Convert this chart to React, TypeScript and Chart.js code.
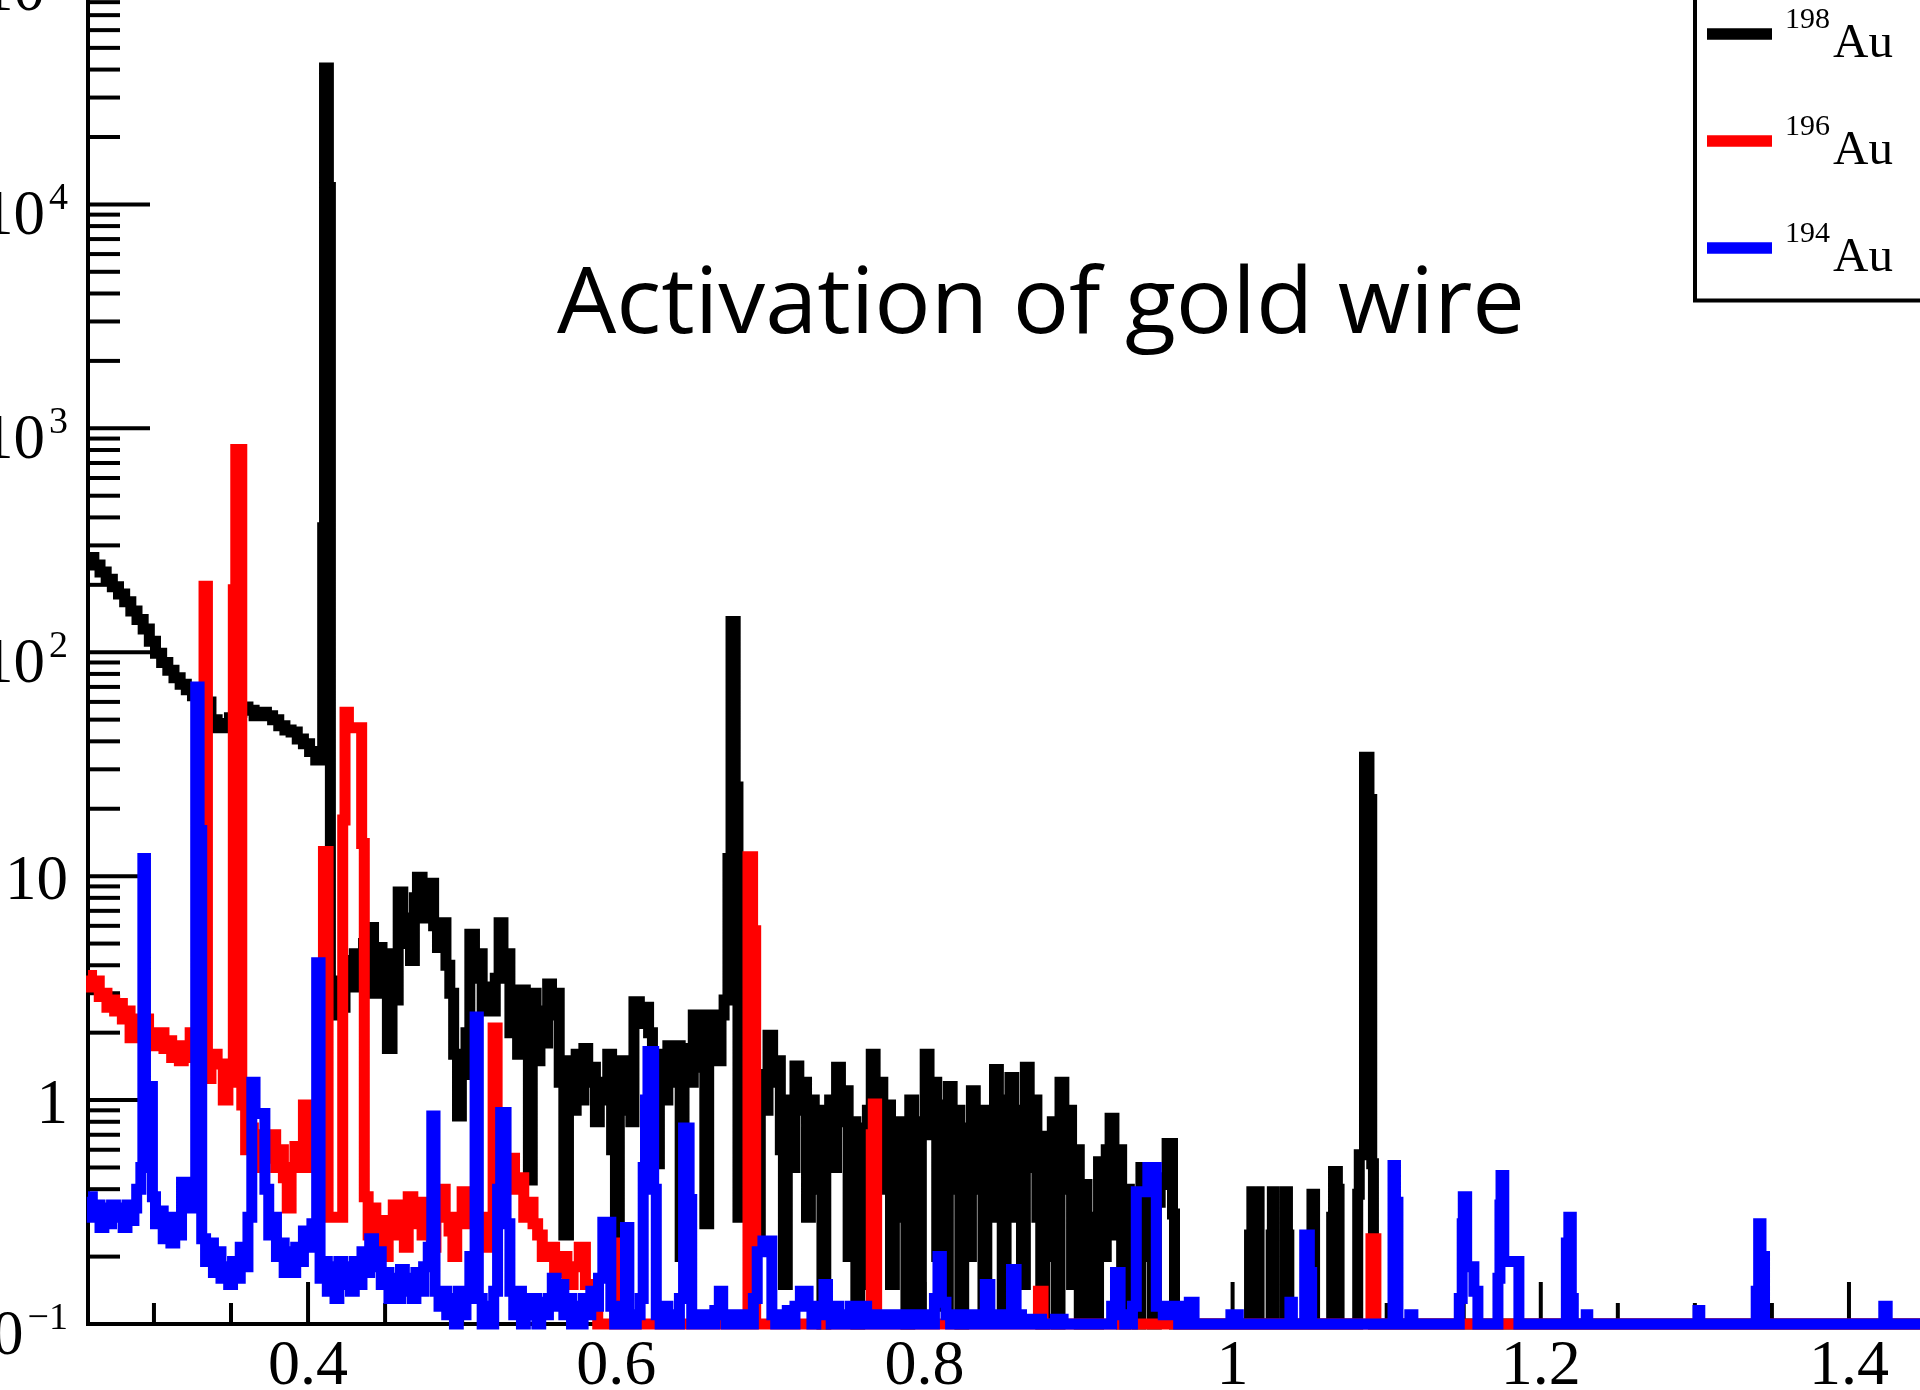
import React, { useEffect, useRef } from 'react';
import { Chart, registerables } from 'chart.js';

Chart.register(...registerables);

// Gamma energy (MeV) on x, counts on a logarithmic y axis.
const energyMin = 0.2572;
const energyMax = 1.4461;
const countsMin = 0.1;
const countsMax = 81800;

const xMajorTicks = [0.4, 0.6, 0.8, 1.0, 1.2, 1.4];
const xMajorLabels = ['0.4', '0.6', '0.8', '1', '1.2', '1.4'];
const xMinorTicks = [0.3, 0.35, 0.45, 0.5, 0.55, 0.65, 0.7, 0.75, 0.85, 0.9, 0.95, 1.05, 1.1, 1.15, 1.25, 1.3, 1.35];

const yDecades = [0.1, 1, 10, 100, 1000, 10000, 100000];
const yDecadeBase = ['10', '1', '10', '10', '10', '10', '10'];
const yDecadeExp = ['\u22121', '', '', '2', '3', '4', '5'];
const yMinorFactors = [2, 3, 4, 5, 6, 7, 8, 9];

const titleText = 'Activation of gold wire';
const isotopeMass = ['198', '196', '194'];
const isotopeColors = ['#000000', '#ff0000', '#0000ff'];

// [left bin edge (MeV), content]; each content holds until the next edge.
const au198Bins: [number, number][] = [
  [0.2572, 265], [0.2610, 245], [0.2650, 228], [0.2690, 212], [0.2730, 196], [0.2770, 182],
  [0.2810, 168], [0.2850, 153], [0.2890, 140], [0.2930, 127], [0.2970, 112], [0.3010, 99],
  [0.3050, 90], [0.3090, 83], [0.3130, 77], [0.3170, 72], [0.3210, 68], [0.3250, 64],
  [0.3290, 62], [0.3330, 60], [0.3370, 50], [0.3410, 46], [0.3450, 48], [0.3490, 51],
  [0.3530, 54], [0.3570, 57], [0.3610, 55], [0.3650, 52], [0.3690, 54], [0.3730, 52],
  [0.3770, 50], [0.3810, 47], [0.3850, 45], [0.3890, 44], [0.3930, 41], [0.3970, 39],
  [0.4010, 36], [0.4050, 33], [0.4095, 360], [0.4107, 40600], [0.4132, 11900], [0.4145, 2.4],
  [0.4175, 3.4], [0.4210, 2.6], [0.4240, 4.2], [0.4270, 3.2], [0.4300, 4.5], [0.4330, 3.6],
  [0.4360, 5.0], [0.4400, 5.9], [0.4425, 3.0], [0.4450, 4.8], [0.4480, 3.3], [0.4500, 4.5],
  [0.4515, 1.7], [0.4545, 3.8], [0.4570, 2.8], [0.4585, 8.5], [0.4615, 5.0], [0.4640, 6.5],
  [0.4665, 4.2], [0.4690, 8.0], [0.4710, 9.9], [0.4740, 6.5], [0.4765, 8.5], [0.4790, 9.3],
  [0.4815, 6.0], [0.4840, 4.8], [0.4870, 6.2], [0.4895, 4.0], [0.4920, 3.0], [0.4945, 1.6],
  [0.4970, 0.85], [0.4995, 1.3], [0.5025, 2.0], [0.5050, 5.5], [0.5080, 3.5], [0.5105, 4.5],
  [0.5130, 2.5], [0.5160, 3.2], [0.5190, 2.5], [0.5215, 3.5], [0.5240, 6.2], [0.5265, 3.5],
  [0.5290, 4.5], [0.5310, 2.0], [0.5335, 3.1], [0.5360, 1.6], [0.5385, 3.1], [0.5410, 2.2],
  [0.5430, 0.44], [0.5455, 3.0], [0.5480, 1.5], [0.5505, 2.5], [0.5530, 1.8], [0.5555, 3.3],
  [0.5580, 2.4], [0.5605, 3.0], [0.5630, 1.2], [0.5660, 0.25], [0.5690, 1.5], [0.5715, 0.9],
  [0.5740, 1.6], [0.5765, 1.0], [0.5790, 1.7], [0.5815, 1.2], [0.5840, 1.4], [0.5865, 0.8],
  [0.5890, 1.2], [0.5920, 1.0], [0.5945, 1.6], [0.5970, 0.6], [0.5995, 0.2], [0.6020, 1.5],
  [0.6045, 0.9], [0.6070, 1.1], [0.6095, 0.8], [0.6115, 2.75], [0.6150, 2.2], [0.6180, 2.6],
  [0.6210, 2.0], [0.6235, 1.2], [0.6255, 0.52], [0.6280, 1.6], [0.6310, 1.0], [0.6335, 1.75],
  [0.6360, 1.2], [0.6390, 1.75], [0.6415, 0.2], [0.6440, 1.7], [0.6470, 1.2], [0.6500, 2.4],
  [0.6530, 1.4], [0.6555, 2.4], [0.6575, 0.28], [0.6600, 1.8], [0.6625, 2.4], [0.6650, 1.5],
  [0.6680, 2.4], [0.6700, 2.8], [0.6725, 12], [0.6745, 137], [0.6772, 25], [0.6790, 0.3],
  [0.6830, 1.0], [0.6860, 0.5], [0.6885, 0.75], [0.6910, 0.25], [0.6935, 1.3], [0.6960, 0.9],
  [0.6985, 1.95], [0.7015, 1.2], [0.7040, 1.5], [0.7065, 0.6], [0.7085, 0.15], [0.7110, 1.0],
  [0.7135, 0.5], [0.7160, 1.42], [0.7185, 0.9], [0.7210, 1.2], [0.7235, 0.3], [0.7260, 1.0],
  [0.7285, 0.4], [0.7310, 0.9], [0.7335, 0.1], [0.7360, 0.6], [0.7385, 1.0], [0.7410, 0.5],
  [0.7430, 1.4], [0.7455, 0.8], [0.7480, 1.1], [0.7505, 0.2], [0.7530, 0.8], [0.7555, 0.1],
  [0.7580, 0.75], [0.7605, 0.15], [0.7630, 0.9], [0.7655, 1.6], [0.7680, 0.6], [0.7705, 1.2],
  [0.7730, 0.4], [0.7755, 0.95], [0.7780, 0.15], [0.7805, 0.8], [0.7830, 0.3], [0.7855, 0.8],
  [0.7880, 0.1], [0.7905, 1.0], [0.7930, 0.3], [0.7955, 0.12], [0.7980, 0.8], [0.8005, 1.6],
  [0.8030, 0.7], [0.8055, 1.2], [0.8080, 0.2], [0.8105, 0.95], [0.8130, 0.12], [0.8155, 1.15],
  [0.8180, 0.4], [0.8205, 0.9], [0.8230, 0.1], [0.8255, 0.75], [0.8280, 0.2], [0.8305, 1.1],
  [0.8330, 0.4], [0.8355, 0.9], [0.8380, 0.12], [0.8405, 0.9], [0.8430, 0.3], [0.8455, 1.37],
  [0.8480, 0.6], [0.8505, 0.12], [0.8530, 1.0], [0.8555, 1.26], [0.8580, 0.3], [0.8605, 0.9],
  [0.8630, 0.15], [0.8655, 1.4], [0.8680, 0.5], [0.8705, 1.0], [0.8730, 0.3], [0.8755, 0.1],
  [0.8780, 0.69], [0.8805, 0.2], [0.8830, 0.8], [0.8855, 0.1], [0.8880, 1.2], [0.8905, 0.4],
  [0.8930, 0.9], [0.8955, 0.15], [0.8980, 0.6], [0.9005, 0.1], [0.9030, 0.42], [0.9055, 0.1],
  [0.9080, 0.3], [0.9105, 0.1], [0.9130, 0.53], [0.9155, 0.2], [0.9180, 0.6], [0.9205, 0.83],
  [0.9230, 0.25], [0.9255, 0.6], [0.9280, 0.1], [0.9305, 0.4], [0.9330, 0.12], [0.9355, 0.3],
  [0.9380, 0.1], [0.9405, 0.5], [0.9430, 0.2], [0.9455, 0.45], [0.9480, 0.1], [0.9505, 0.35],
  [0.9530, 0.45], [0.9560, 0.42], [0.9575, 0.64], [0.9610, 0.31], [0.9623, 0.1], [1.0110, 0.25],
  [1.0125, 0.39], [1.0172, 0.1], [1.0250, 0.25], [1.0258, 0.39], [1.0268, 0.1], [1.0340, 0.39],
  [1.0356, 0.25], [1.0365, 0.1], [1.0515, 0.38], [1.0532, 0.1], [1.0643, 0.3], [1.0655, 0.48],
  [1.0680, 0.4], [1.0691, 0.1], [1.0812, 0.38], [1.0822, 0.57], [1.0856, 34], [1.0885, 22],
  [1.0903, 0.52], [1.0914, 0.1],
];

const au196Bins: [number, number][] = [
  [0.2572, 3.6], [0.2595, 3.2], [0.2620, 3.4], [0.2645, 2.9], [0.2670, 3.0], [0.2695, 2.6],
  [0.2720, 2.8], [0.2745, 2.5], [0.2770, 2.7], [0.2795, 2.3], [0.2820, 2.5], [0.2845, 1.9],
  [0.2866, 2.1], [0.2890, 2.3], [0.2915, 2.0], [0.2940, 2.3], [0.2965, 1.8], [0.2990, 2.0],
  [0.3015, 1.75], [0.3040, 2.0], [0.3065, 1.7], [0.3090, 1.84], [0.3115, 1.55], [0.3140, 1.75],
  [0.3165, 1.5], [0.3190, 1.7], [0.3213, 1.55], [0.3235, 2.0], [0.3270, 1.7], [0.3325, 197],
  [0.3347, 1.25], [0.3370, 1.6], [0.3410, 1.45], [0.3450, 1.0], [0.3480, 1.2], [0.3515, 190],
  [0.3531, 805], [0.3570, 0.95], [0.3595, 0.6], [0.3620, 0.75], [0.3645, 0.5], [0.3670, 0.62],
  [0.3700, 0.7], [0.3730, 0.55], [0.3760, 0.7], [0.3790, 0.5], [0.3815, 0.6], [0.3840, 0.45],
  [0.3865, 0.33], [0.3890, 0.5], [0.3915, 0.62], [0.3945, 0.5], [0.3970, 0.95], [0.4000, 0.7],
  [0.4024, 0.5], [0.4100, 12.9], [0.4130, 0.3], [0.4225, 17.8], [0.4240, 54], [0.4262, 46],
  [0.4348, 14], [0.4365, 0.37], [0.4390, 0.25], [0.4415, 0.33], [0.4440, 0.22], [0.4467, 0.29],
  [0.4495, 0.2], [0.4520, 0.26], [0.4553, 0.34], [0.4580, 0.25], [0.4605, 0.3], [0.4625, 0.22],
  [0.4650, 0.37], [0.4680, 0.28], [0.4710, 0.35], [0.4740, 0.25], [0.4770, 0.3], [0.4800, 0.22],
  [0.4830, 0.3], [0.4860, 0.4], [0.4890, 0.3], [0.4915, 0.26], [0.4940, 0.2], [0.4965, 0.3],
  [0.5000, 0.39], [0.5030, 0.28], [0.5060, 0.33], [0.5090, 0.25], [0.5120, 0.3], [0.5150, 0.22],
  [0.5175, 0.3], [0.5201, 2.1], [0.5227, 0.4], [0.5255, 0.6], [0.5280, 0.45], [0.5310, 0.55],
  [0.5340, 0.4], [0.5370, 0.45], [0.5400, 0.3], [0.5430, 0.35], [0.5460, 0.28], [0.5490, 0.25],
  [0.5520, 0.2], [0.5560, 0.22], [0.5600, 0.17], [0.5640, 0.2], [0.5680, 0.15], [0.5720, 0.18],
  [0.5760, 0.22], [0.5800, 0.15], [0.5840, 0.12], [0.5880, 0.1], [0.5990, 0.23], [0.6010, 0.1],
  [0.6855, 12.2], [0.6885, 5.7], [0.6905, 0.1], [0.7655, 0.7], [0.7668, 0.96], [0.7690, 0.1],
  [0.8740, 0.14], [0.8770, 0.1], [1.0898, 0.24], [1.0930, 0.1],
];

const au194Bins: [number, number][] = [
  [0.2572, 0.37], [0.2600, 0.30], [0.2625, 0.34], [0.2650, 0.27], [0.2675, 0.33], [0.2700, 0.28],
  [0.2725, 0.34], [0.2750, 0.30], [0.2775, 0.33], [0.2800, 0.27], [0.2825, 0.34], [0.2850, 0.29],
  [0.2870, 0.33], [0.2888, 0.40], [0.2915, 0.50], [0.2928, 12], [0.2945, 1.15], [0.2990, 0.37],
  [0.3010, 0.28], [0.3035, 0.32], [0.3060, 0.24], [0.3085, 0.30], [0.3110, 0.23], [0.3135, 0.28],
  [0.3160, 0.25], [0.3179, 0.43], [0.3210, 0.33], [0.3240, 0.42], [0.3271, 70], [0.3293, 16],
  [0.3310, 0.24], [0.3335, 0.19], [0.3360, 0.23], [0.3386, 0.17], [0.3410, 0.21], [0.3435, 0.16],
  [0.3460, 0.18], [0.3485, 0.15], [0.3510, 0.19], [0.3535, 0.16], [0.3560, 0.22], [0.3585, 0.18],
  [0.3610, 0.30], [0.3635, 1.2], [0.3656, 0.87], [0.3720, 0.40], [0.3745, 0.25], [0.3770, 0.30],
  [0.3795, 0.20], [0.3820, 0.23], [0.3845, 0.17], [0.3870, 0.21], [0.3895, 0.17], [0.3920, 0.22],
  [0.3945, 0.19], [0.3970, 0.26], [0.4000, 0.22], [0.4025, 0.28], [0.4056, 4.1], [0.4078, 0.16],
  [0.4100, 0.19], [0.4125, 0.14], [0.4150, 0.18], [0.4175, 0.13], [0.4200, 0.19], [0.4225, 0.15],
  [0.4250, 0.18], [0.4275, 0.14], [0.4300, 0.19], [0.4325, 0.15], [0.4350, 0.21], [0.4375, 0.17],
  [0.4400, 0.24], [0.4425, 0.18], [0.4450, 0.21], [0.4475, 0.15], [0.4500, 0.17], [0.4525, 0.13],
  [0.4550, 0.16], [0.4575, 0.13], [0.4600, 0.175], [0.4625, 0.14], [0.4650, 0.16], [0.4675, 0.13],
  [0.4700, 0.17], [0.4725, 0.14], [0.4750, 0.18], [0.4780, 0.22], [0.4803, 0.85], [0.4824, 0.14],
  [0.4850, 0.12], [0.4875, 0.14], [0.4900, 0.11], [0.4925, 0.13], [0.4950, 0.10], [0.4975, 0.14],
  [0.5000, 0.11], [0.5025, 0.13], [0.5050, 0.20], [0.5084, 2.35], [0.5105, 0.13], [0.5130, 0.10],
  [0.5155, 0.12], [0.5180, 0.10], [0.5205, 0.14], [0.5230, 0.40], [0.5250, 0.88], [0.5285, 0.28],
  [0.5310, 0.14], [0.5335, 0.11], [0.5360, 0.14], [0.5385, 0.10], [0.5410, 0.13], [0.5435, 0.11],
  [0.5460, 0.13], [0.5485, 0.10], [0.5510, 0.125], [0.5535, 0.11], [0.5560, 0.13], [0.5585, 0.16],
  [0.5610, 0.12], [0.5635, 0.15], [0.5660, 0.11], [0.5685, 0.13], [0.5710, 0.10], [0.5735, 0.12],
  [0.5760, 0.10], [0.5785, 0.13], [0.5810, 0.11], [0.5835, 0.14], [0.5860, 0.12], [0.5885, 0.16],
  [0.5913, 0.285], [0.5965, 0.12], [0.5990, 0.10], [0.6010, 0.12], [0.6035, 0.10], [0.6060, 0.27],
  [0.6082, 0.11], [0.6105, 0.10], [0.6130, 0.11], [0.6155, 0.13], [0.6175, 0.50], [0.6190, 1.0],
  [0.6206, 1.65], [0.6243, 0.40], [0.6260, 0.11], [0.6285, 0.10], [0.6310, 0.12], [0.6335, 0.10],
  [0.6360, 0.11], [0.6385, 0.10], [0.6410, 0.13], [0.6437, 0.75], [0.6473, 0.36], [0.6490, 0.10],
  [0.6515, 0.10], [0.6540, 0.11], [0.6565, 0.10], [0.6590, 0.11], [0.6615, 0.10], [0.6640, 0.115],
  [0.6669, 0.14], [0.6691, 0.11], [0.6715, 0.10], [0.6740, 0.11], [0.6765, 0.10], [0.6790, 0.11],
  [0.6815, 0.10], [0.6840, 0.11], [0.6865, 0.10], [0.6890, 0.13], [0.6915, 0.21], [0.6952, 0.235],
  [0.7010, 0.11], [0.7035, 0.10], [0.7060, 0.11], [0.7085, 0.10], [0.7110, 0.115], [0.7135, 0.10],
  [0.7160, 0.12], [0.7195, 0.14], [0.7245, 0.12], [0.7270, 0.10], [0.7295, 0.12], [0.7320, 0.11],
  [0.7348, 0.15], [0.7371, 0.11], [0.7395, 0.10], [0.7420, 0.12], [0.7445, 0.10], [0.7470, 0.11],
  [0.7495, 0.10], [0.7520, 0.12], [0.7545, 0.10], [0.7570, 0.11], [0.7600, 0.12], [0.7625, 0.10],
  [0.7650, 0.11], [0.7700, 0.10], [0.7730, 0.11], [0.7760, 0.10], [0.7800, 0.11], [0.7840, 0.10],
  [0.7900, 0.11], [0.7950, 0.10], [0.8000, 0.11], [0.8040, 0.10], [0.8065, 0.13], [0.8088, 0.20],
  [0.8110, 0.125], [0.8140, 0.11], [0.8170, 0.10], [0.8210, 0.11], [0.8250, 0.10], [0.8300, 0.11],
  [0.8350, 0.10], [0.8395, 0.15], [0.8425, 0.11], [0.8460, 0.10], [0.8500, 0.11], [0.8540, 0.10],
  [0.8565, 0.175], [0.8595, 0.11], [0.8630, 0.10], [0.8700, 0.105], [0.8760, 0.10], [0.8850, 0.105],
  [0.8900, 0.10], [0.9215, 0.12], [0.9240, 0.17], [0.9270, 0.11], [0.9300, 0.10], [0.9350, 0.12],
  [0.9375, 0.39], [0.9450, 0.50], [0.9505, 0.12], [0.9550, 0.11], [0.9600, 0.12], [0.9650, 0.10],
  [0.9719, 0.125], [0.9750, 0.10], [0.9989, 0.11], [1.0037, 0.10], [1.0372, 0.125], [1.0388, 0.10],
  [1.0468, 0.25], [1.0498, 0.17], [1.0513, 0.10], [1.1041, 0.51], [1.1057, 0.35], [1.1073, 0.10],
  [1.1150, 0.11], [1.1170, 0.10], [1.1471, 0.13], [1.1490, 0.28], [1.1497, 0.37], [1.1519, 0.18],
  [1.1566, 0.14], [1.1592, 0.10], [1.1722, 0.16], [1.1735, 0.34], [1.1742, 0.46], [1.1760, 0.19],
  [1.1858, 0.10], [1.2166, 0.23], [1.2182, 0.30], [1.2198, 0.13], [1.2211, 0.10], [1.2295, 0.11],
  [1.2305, 0.10], [1.3020, 0.115], [1.3032, 0.10], [1.3398, 0.14], [1.3414, 0.28], [1.3429, 0.20],
  [1.3452, 0.10], [1.4226, 0.12], [1.4248, 0.10],
];

function histogramPoints(bins: [number, number][]) {
  const pts = bins.map(([e, c]) => ({ x: e, y: c }));
  pts.push({ x: energyMax, y: bins[bins.length - 1][1] });
  return pts;
}

const serif = '"Liberation Serif", "Times New Roman", serif';

function seg(ctx: CanvasRenderingContext2D, x1: number, y1: number, x2: number, y2: number) {
  ctx.beginPath();
  ctx.moveTo(x1, y1);
  ctx.lineTo(x2, y2);
  ctx.stroke();
}

// Axes, ticks and tick labels in the ROOT style (ticks pointing into the frame),
// then the legend box and the caption on top of the spectra.
const frameAndLegend = {
  id: 'frameAndLegend',
  beforeDatasetsDraw(chart: any) {
    const { ctx, chartArea: a, scales } = chart;
    const xs = scales.x;
    const ys = scales.y;
    const W = chart.width;
    ctx.save();
    ctx.strokeStyle = '#000';
    ctx.lineCap = 'butt';
    ctx.lineWidth = 4;
    ctx.beginPath();
    ctx.moveTo(a.left, a.top - 10);
    ctx.lineTo(a.left, a.bottom);
    ctx.lineTo(W + 10, a.bottom);
    ctx.stroke();

    yDecades.forEach((d) => {
      const py = ys.getPixelForValue(d);
      if (d > countsMin) seg(ctx, a.left, py, a.left + 62, py);
      yMinorFactors.forEach((m) => {
        const v = d * m;
        if (v > countsMax) return;
        const p = ys.getPixelForValue(v);
        seg(ctx, a.left, p, a.left + 32, p);
      });
    });

    xMajorTicks.forEach((v) => {
      const px = xs.getPixelForValue(v);
      seg(ctx, px, a.bottom, px, a.bottom - 42);
    });
    xMinorTicks.forEach((v) => {
      const px = xs.getPixelForValue(v);
      seg(ctx, px, a.bottom, px, a.bottom - 21);
    });

    ctx.fillStyle = '#000';
    ctx.textBaseline = 'alphabetic';
    ctx.font = `64px ${serif}`;
    ctx.textAlign = 'center';
    xMajorTicks.forEach((v, i) => {
      ctx.fillText(xMajorLabels[i], xs.getPixelForValue(v), a.bottom + 60);
    });

    ctx.textAlign = 'right';
    const right = a.left - 20;
    yDecades.forEach((d, i) => {
      const py = ys.getPixelForValue(d);
      const base = yDecadeBase[i];
      const exp = yDecadeExp[i];
      if (exp) {
        ctx.font = `38px ${serif}`;
        const w = ctx.measureText(exp).width;
        ctx.fillText(exp, right, py + 5);
        ctx.font = `63px ${serif}`;
        ctx.fillText(base, right - w - 4, py + 30);
      } else {
        ctx.font = `63px ${serif}`;
        ctx.fillText(base, right, py + 23);
      }
    });
    ctx.restore();
  },
  afterDatasetsDraw(chart: any) {
    const { ctx } = chart;
    const W = chart.width;
    ctx.save();
    // legend box
    const boxLeft = 1695;
    const boxBottom = 300.5;
    ctx.fillStyle = '#fff';
    ctx.fillRect(boxLeft, -10, W - boxLeft + 10, boxBottom + 10);
    ctx.strokeStyle = '#000';
    ctx.lineWidth = 4;
    ctx.beginPath();
    ctx.moveTo(boxLeft, -10);
    ctx.lineTo(boxLeft, boxBottom);
    ctx.lineTo(W + 10, boxBottom);
    ctx.stroke();
    isotopeMass.forEach((mass, i) => {
      const cy = 34 + 107 * i;
      ctx.strokeStyle = isotopeColors[i];
      ctx.lineWidth = 11.5;
      ctx.lineCap = 'butt';
      seg(ctx, 1707, cy, 1772, cy);
      ctx.fillStyle = '#000';
      ctx.textAlign = 'left';
      ctx.textBaseline = 'alphabetic';
      ctx.font = `30px ${serif}`;
      ctx.fillText(mass, 1785, cy - 6);
      ctx.font = `49px ${serif}`;
      ctx.fillText('Au', 1833, cy + 23);
    });

    // caption inside the frame
    ctx.fillStyle = '#000';
    ctx.font = '92px "Open Sans", "Noto Sans", sans-serif';
    ctx.textAlign = 'left';
    const tw = ctx.measureText(titleText).width;
    ctx.translate(557, 333);
    ctx.scale(968 / tw, 1);
    ctx.fillText(titleText, 0, 0);
    ctx.restore();
  },
};

export default function App() {
  const canvasRef = useRef<HTMLCanvasElement | null>(null);

  useEffect(() => {
    const canvas = canvasRef.current;
    if (!canvas) return;
    const common = {
      stepped: 'before' as const,
      borderWidth: 11,
      pointRadius: 0,
      fill: false,
      tension: 0,
      borderJoinStyle: 'miter' as const,
      borderCapStyle: 'butt' as const,
      clip: false as const,
    };
    const chart = new Chart(canvas, {
      type: 'line',
      data: {
        datasets: [
          { ...common, label: '198Au', data: histogramPoints(au198Bins), borderColor: isotopeColors[0], order: 3 },
          { ...common, label: '196Au', data: histogramPoints(au196Bins), borderColor: isotopeColors[1], order: 2 },
          { ...common, label: '194Au', data: histogramPoints(au194Bins), borderColor: isotopeColors[2], order: 1 },
        ],
      },
      options: {
        responsive: false,
        animation: false,
        devicePixelRatio: 1,
        events: [],
        layout: { padding: { left: 88, right: 0, top: 0, bottom: 66 } },
        scales: {
          x: { type: 'linear', min: energyMin, max: energyMax, display: false },
          y: { type: 'logarithmic', min: countsMin, max: countsMax, display: false },
        },
        plugins: { legend: { display: false }, tooltip: { enabled: false }, title: { display: false } },
      },
      plugins: [frameAndLegend],
    });
    return () => chart.destroy();
  }, []);

  return (
    <div style={{ position: 'absolute', left: 0, top: 0, width: 1920, height: 1390, background: '#fff', overflow: 'hidden' }}>
      <canvas ref={canvasRef} width={1920} height={1390} style={{ display: 'block' }} />
    </div>
  );
}
